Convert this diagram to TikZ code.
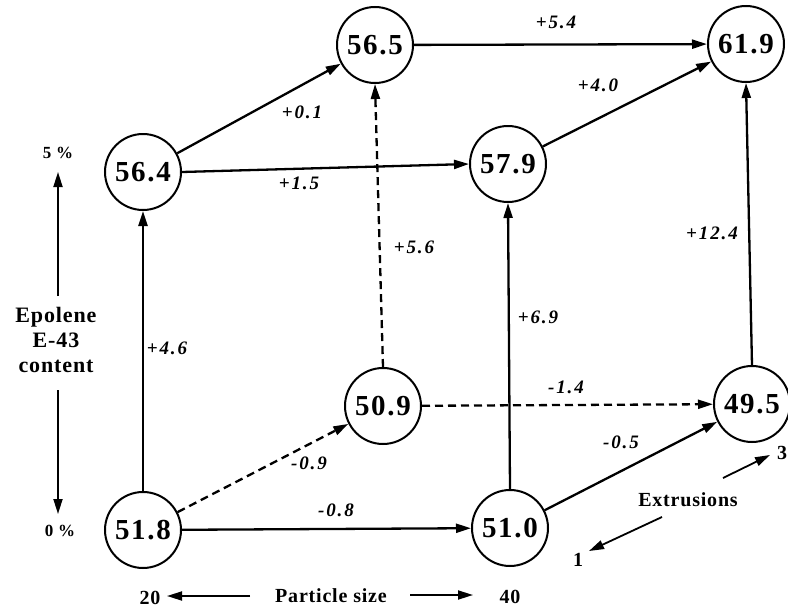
\documentclass[tikz,border=0pt]{standalone}
\usepackage{fontspec}
\setmainfont{Liberation Serif}
\newfontfamily\lblfont[LetterSpace=10]{Liberation Serif}
\newfontfamily\numfont[LetterSpace=6]{Liberation Serif}
\newfontfamily\axfont[LetterSpace=4]{Liberation Serif}
\usetikzlibrary{arrows.meta}
\begin{document}
\begin{tikzpicture}[x=1pt,y=-1pt,
  val/.style={circle,draw,line width=2pt,minimum size=76pt,inner sep=0pt,font=\numfont\bfseries\fontsize{29}{30}\selectfont},
  conn/.style={line width=2.3pt,-{Triangle[length=15pt,width=9pt]}},
  dconn/.style={conn,dash pattern=on 8pt off 5pt},
  elab/.style={font=\lblfont\bfseries\itshape\fontsize{19}{20}\selectfont,inner sep=0pt},
  axlab/.style={font=\axfont\bfseries\fontsize{22}{25}\selectfont,inner sep=0pt,align=center},
  pclab/.style={font=\axfont\bfseries\fontsize{17}{18}\selectfont,inner sep=0pt},
  axarr/.style={line width=1.8pt,-{Triangle[length=15pt,width=9pt]}}]
\useasboundingbox (0,0) rectangle (788,608);
% nodes
\node[val] (a) at (143,530) {51.8};
\node[val] (b) at (510,528) {51.0};
\node[val] (c) at (383,406) {50.9};
\node[val] (d) at (752,404) {49.5};
\node[val] (e) at (143,172) {56.4};
\node[val] (f) at (508,164) {57.9};
\node[val] (g) at (375,45) {56.5};
\node[val] (h) at (746,44) {61.9};
% connectors
\draw[conn] (a) -- (b);
\draw[dconn] (a) -- (c);
\draw[dconn] (c) -- (d);
\draw[conn] (b) -- (d);
\draw[conn] (a) -- (e);
\draw[dconn] (c.north) -- (g.south);
\draw[conn] (b.north) -- (f.south);
\draw[conn] (d.north) -- (h.south);
\draw[conn] (e) -- (g);
\draw[conn] (e.east) -- (f.west);
\draw[conn] (g) -- (h);
\draw[conn] (f) -- (h);
% edge labels
\node[elab] (l1) at (556,22) {+5.4};
\node[elab] (l2) at (598,85) {+4.0};
\node[elab] (l3) at (302,112) {+0.1};
\node[elab] (l4) at (299,183) {+1.5};
\node[elab] (l5) at (414,247) {+5.6};
\node[elab] (l6) at (538,317) {+6.9};
\node[elab] (l7) at (712,233) {+12.4};
\node[elab] (l8) at (167,348) {+4.6};
\node[elab] (l9) at (566,387) {-1.4};
\node[elab] (l10) at (621,442) {-0.5};
\node[elab] (l11) at (309,463) {-0.9};
\node[elab] (l12) at (336,510) {-0.8};
% left axis
\node[pclab] (p5) at (58,153) {5 \%};
\node[pclab] (p0) at (60,531) {0 \%};
\node[axlab] (ep) at (56,340) {Epolene\\E-43\\content};
\coordinate (ut) at (58,296);
\coordinate (utip) at (58,172);
\coordinate (lt) at (58,390);
\coordinate (ltip) at (58,514);
\draw[axarr] (ut) -- (utip);
\draw[axarr] (lt) -- (ltip);
% bottom axis
\node[axlab,font=\axfont\bfseries\fontsize{20}{22}\selectfont] (s20) at (150,598) {20};
\node[axlab,font=\axfont\bfseries\fontsize{20}{22}\selectfont] (ps) at (331,596) {Particle size};
\node[axlab,font=\axfont\bfseries\fontsize{20}{22}\selectfont] (s40) at (510,597) {40};
\coordinate (pl) at (250,596);
\coordinate (pltip) at (167,596);
\coordinate (pr) at (410,595);
\coordinate (prtip) at (473,595);
\draw[axarr] (pl) -- (pltip);
\draw[axarr] (pr) -- (prtip);
% extrusions
\node[axlab,font=\axfont\bfseries\fontsize{20}{22}\selectfont] (ex) at (688,500) {Extrusions};
\node[axlab,font=\axfont\bfseries\fontsize{20}{22}\selectfont] (e3) at (782,453) {3};
\node[axlab,font=\axfont\bfseries\fontsize{20}{22}\selectfont] (e1) at (578,560) {1};
\coordinate (x1) at (723,478);
\coordinate (x1tip) at (770,455);
\coordinate (x2) at (662,517);
\coordinate (x2tip) at (589,551);
\draw[axarr] (x1) -- (x1tip);
\draw[axarr] (x2) -- (x2tip);
\end{tikzpicture}
\end{document}
